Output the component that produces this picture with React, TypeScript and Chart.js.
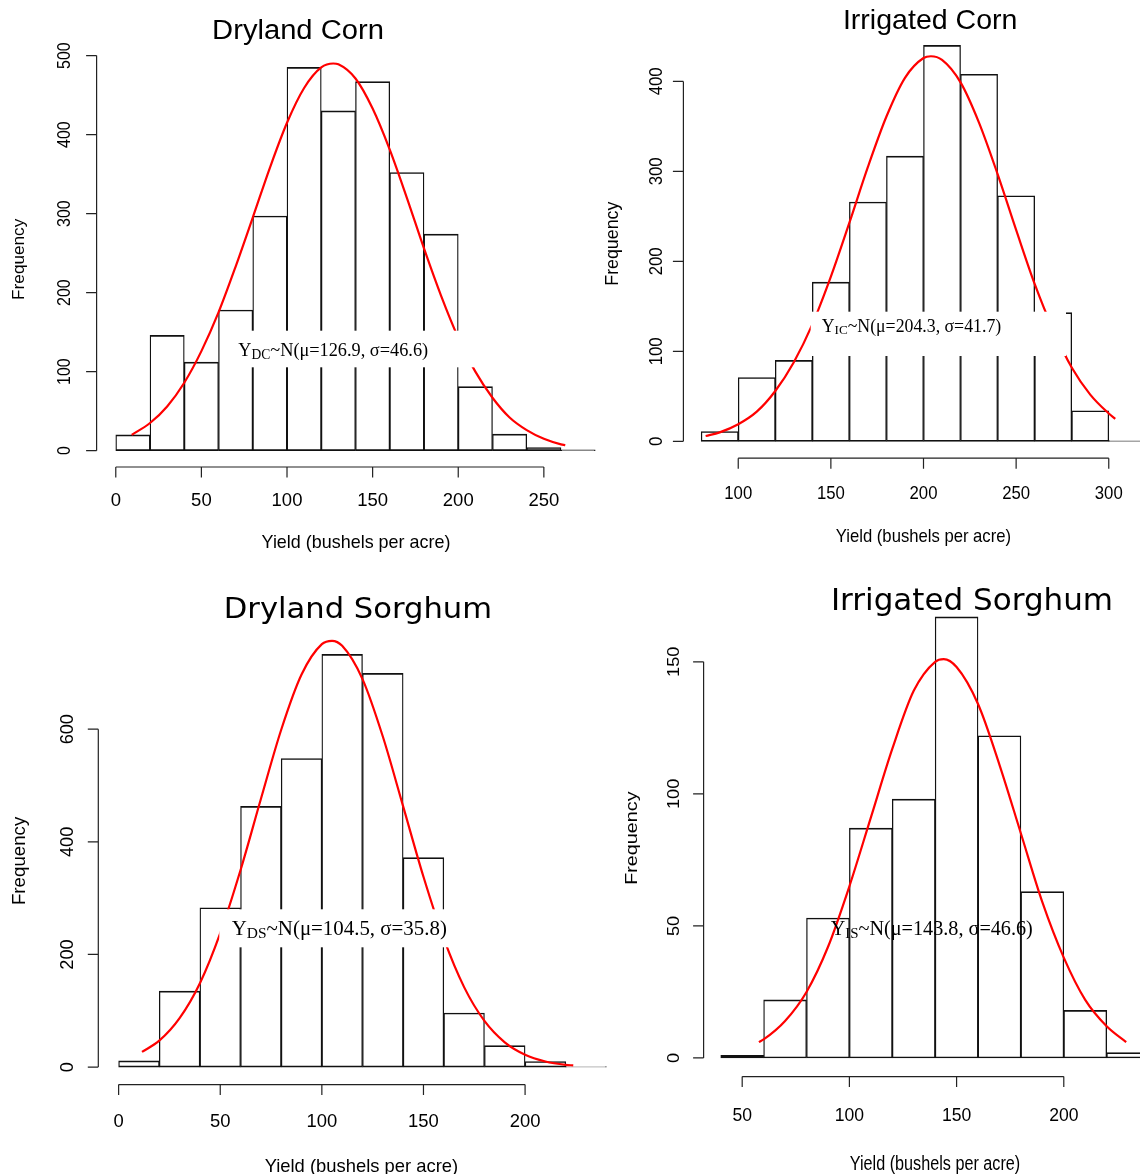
import React, { useEffect, useRef } from "react";
import { Chart, registerables } from "chart.js";

Chart.register(...registerables);

// ---------------- DATA ----------------
const BIN_WIDTH = 20;

// Dryland Corn
const dcBinStarts = [0, 20, 40, 60, 80, 100, 120, 140, 160, 180, 200, 220, 240, 260];
const dcCounts = [20, 146, 112, 178, 297, 485, 430, 467, 352, 274, 81, 21, 4, 1];
const dcCurveX = [9.3, 20, 30, 40, 50, 60, 70, 80, 90, 100, 110, 120, 127, 130, 140, 150, 160, 170, 180, 190, 200, 210, 220, 230, 240, 250, 260, 262.5];
const dcCurveY = [20, 35, 56, 86, 126, 175, 233, 295, 358, 415, 459, 485, 490, 489, 471, 433, 381, 320, 256, 196, 143, 100, 67, 42, 26, 15, 8, 7];
const dcXTicks = [0, 50, 100, 150, 200, 250];
const dcYTicks = [0, 100, 200, 300, 400, 500];

// Irrigated Corn
const icBinStarts = [80, 100, 120, 140, 160, 180, 200, 220, 240, 260, 280, 300];
const icCounts = [11, 71, 90, 177, 266, 317, 440, 408, 273, 143, 34, 1];
const icCurveX = [82.4, 90, 100, 110, 120, 130, 140, 150, 160, 170, 180, 190, 200, 204, 210, 220, 230, 240, 250, 260, 270, 280, 290, 300, 303.5];
const icCurveY = [6, 10, 19, 33, 56, 88, 130, 183, 243, 305, 361, 404, 426, 428, 424, 399, 354, 297, 235, 175, 124, 82, 52, 31, 25];
const icXTicks = [100, 150, 200, 250, 300];
const icYTicks = [0, 100, 200, 300, 400];

// Dryland Sorghum
const dsBinStarts = [0, 20, 40, 60, 80, 100, 120, 140, 160, 180, 200, 220];
const dsCounts = [11, 135, 283, 463, 548, 733, 699, 372, 96, 38, 10, 1];
const dsCurveX = [11.5, 20, 30, 40, 50, 60, 70, 80, 90, 100, 105, 110, 120, 130, 140, 150, 160, 170, 180, 190, 200, 210, 220, 223.7];
const dsCurveY = [27, 47, 87, 149, 238, 350, 476, 599, 697, 751, 757, 748, 689, 587, 463, 338, 228, 142, 82, 44, 22, 10, 4, 3];
const dsXTicks = [0, 50, 100, 150, 200];
const dsYTicks = [0, 200, 400, 600];

// Irrigated Sorghum
const isBinStarts = [40, 60, 80, 100, 120, 140, 160, 180, 200, 220];
const isCounts = [1, 22, 53, 87, 98, 167, 122, 63, 18, 2];
const isCurveX = [57.8, 60, 70, 80, 90, 100, 110, 120, 130, 140, 144, 150, 160, 170, 180, 190, 200, 210, 220, 229.1];
const isCurveY = [6, 7, 14, 25, 42, 65, 91, 117, 139, 150, 151, 148, 134, 111, 85, 59, 38, 22, 12, 6];
const isXTicks = [50, 100, 150, 200];
const isYTicks = [0, 50, 100, 150];

const titles = ["Dryland Corn", "Irrigated Corn", "Dryland Sorghum", "Irrigated Sorghum"];
const noteSubs = ["DC", "IC", "DS", "IS"];
const noteRests = ["~N(μ=126.9, σ=46.6)", "~N(μ=204.3, σ=41.7)", "~N(μ=104.5, σ=35.8)", "~N(μ=143.8, σ=46.6)"];
const Y_TITLE = "Frequency";
const X_TITLE = "Yield (bushels per acre)";

// ---------------- LAYOUT ----------------
const CW = 1200;
const CH = 1240;
const SANS = '"Liberation Sans", Arial, Helvetica, sans-serif';
const DEJAVU = '"DejaVu Sans", Verdana, sans-serif';
const SERIF = '"Liberation Serif", "Times New Roman", serif';
const AXIS_COLOR = "#222";
const TICK_LEN = 10.5;

type Txt = { x: number; y: number; size: number; sx: number };
type Spec = {
  binStarts: number[];
  counts: number[];
  curveX: number[];
  curveY: number[];
  xTicks: number[];
  yTicks: number[];
  area: { left: number; right: number; top: number; bottom: number };
  xRange: [number, number];
  yRange: [number, number];
  title: string;
  titleFont: string;
  titlePos: Txt;
  xLab: { baseline: number; size: number; sx: number };
  yLab: { xb: number; size: number; sx: number };
  yTitle: Txt;
  xTitle: Txt;
  note: { left: number; baseline: number; size: number; sub: string; rest: string; box: number[] | null };
};

const specs: Spec[] = [
  {
    binStarts: dcBinStarts, counts: dcCounts, curveX: dcCurveX, curveY: dcCurveY, xTicks: dcXTicks, yTicks: dcYTicks,
    area: { left: 96.6, right: 614.4, top: 52.1, bottom: 466.0 },
    xRange: [-11.2, 291.2], yRange: [-19.4, 504.4],
    title: titles[0], titleFont: SANS, titlePos: { x: 298, y: 38.5, size: 27, sx: 1.08 },
    xLab: { baseline: 506, size: 18.5, sx: 1 },
    yLab: { xb: 70, size: 16, sx: 1.1 },
    yTitle: { x: 23.8, y: 259.3, size: 17.2, sx: 1 },
    xTitle: { x: 356, y: 547.5, size: 18.5, sx: 0.97 },
    note: { left: 238.3, baseline: 356, size: 18.3, sub: noteSubs[0], rest: noteRests[0], box: [220, 330.7, 476, 367.3] },
  },
  {
    binStarts: icBinStarts, counts: icCounts, curveX: icCurveX, curveY: icCurveY, xTicks: icXTicks, yTicks: icYTicks,
    area: { left: 683.4, right: 1163.6, top: 29.6, bottom: 457.2 },
    xRange: [70.4, 329.6], yRange: [-17.6, 457.6],
    title: titles[1], titleFont: SANS, titlePos: { x: 930.2, y: 29.3, size: 28, sx: 1.02 },
    xLab: { baseline: 499, size: 18, sx: 0.93 },
    yLab: { xb: 662.3, size: 16.7, sx: 1.1 },
    yTitle: { x: 618.4, y: 243.7, size: 17.8, sx: 1 },
    xTitle: { x: 923.4, y: 542, size: 18.5, sx: 0.9 },
    note: { left: 821.7, baseline: 331.7, size: 17.8, sub: noteSubs[1], rest: noteRests[1], box: [810.7, 311.7, 1066, 356] },
  },
  {
    binStarts: dsBinStarts, counts: dsCounts, curveX: dsCurveX, curveY: dsCurveY, xTicks: dsXTicks, yTicks: dsYTicks,
    area: { left: 98.3, right: 626.7, top: 637.8, bottom: 1083.6 },
    xRange: [-10, 250], yRange: [-29.3, 762.3],
    title: titles[2], titleFont: DEJAVU, titlePos: { x: 357.9, y: 617.9, size: 28.6, sx: 1.07 },
    xLab: { baseline: 1126.8, size: 19, sx: 0.97 },
    yLab: { xb: 72.6, size: 18.2, sx: 1.05 },
    yTitle: { x: 25.3, y: 860.9, size: 18.7, sx: 1 },
    xTitle: { x: 361.4, y: 1171.5, size: 18.4, sx: 1 },
    note: { left: 231.7, baseline: 935, size: 20.9, sub: noteSubs[2], rest: noteRests[2], box: [219.3, 909.3, 465, 947.3] },
  },
  {
    binStarts: isBinStarts, counts: isCounts, curveX: isCurveX, curveY: isCurveY, xTicks: isXTicks, yTicks: isYTicks,
    area: { left: 703.6, right: 1166.7, top: 599.2, bottom: 1075.6 },
    xRange: [32, 248], yRange: [-6.68, 173.7],
    title: titles[3], titleFont: DEJAVU, titlePos: { x: 972, y: 610.3, size: 30.1, sx: 1.03 },
    xLab: { baseline: 1121, size: 18.7, sx: 0.94 },
    yLab: { xb: 679.4, size: 18.2, sx: 0.9 },
    yTitle: { x: 637.1, y: 838.1, size: 19.8, sx: 0.8 },
    xTitle: { x: 935, y: 1170, size: 20, sx: 0.81 },
    note: { left: 830.7, baseline: 935, size: 20.2, sub: noteSubs[3], rest: noteRests[3], box: null },
  },
];

function drawText(
  ctx: CanvasRenderingContext2D,
  s: string,
  x: number,
  y: number,
  size: number,
  family: string,
  sx = 1,
  rot = 0,
  align: CanvasTextAlign = "center"
) {
  ctx.save();
  ctx.translate(x, y);
  ctx.scale(sx, 1);
  if (rot) ctx.rotate(rot);
  ctx.font = `${size}px ${family}`;
  ctx.textAlign = align;
  ctx.textBaseline = "alphabetic";
  ctx.fillStyle = "#000";
  ctx.fillText(s, 0, 0);
  ctx.restore();
}

function makePlugin(spec: Spec) {
  return {
    id: "rStyle",
    afterDatasetsDraw(chart: any) {
      const ctx: CanvasRenderingContext2D = chart.ctx;
      const n = spec.note;
      ctx.save();
      if (n.box) {
        ctx.fillStyle = "#fff";
        ctx.fillRect(n.box[0], n.box[1], n.box[2] - n.box[0], n.box[3] - n.box[1]);
      }
      ctx.fillStyle = "#000";
      ctx.textAlign = "left";
      ctx.textBaseline = "alphabetic";
      ctx.font = `${n.size}px ${SERIF}`;
      let x = n.left;
      ctx.fillText("Y", x, n.baseline);
      x += ctx.measureText("Y").width;
      ctx.font = `${n.size * 0.74}px ${SERIF}`;
      ctx.fillText(n.sub, x, n.baseline + n.size * 0.15);
      x += ctx.measureText(n.sub).width;
      ctx.font = `${n.size}px ${SERIF}`;
      ctx.fillText(n.rest, x, n.baseline);
      ctx.restore();
    },
    afterDraw(chart: any) {
      const ctx: CanvasRenderingContext2D = chart.ctx;
      const xs = chart.scales.x;
      const ys = chart.scales.y;
      const ca = chart.chartArea;
      ctx.save();
      ctx.strokeStyle = AXIS_COLOR;
      ctx.lineWidth = 1.2;
      // y axis
      const ax = ca.left;
      const yT = spec.yTicks;
      ctx.beginPath();
      ctx.moveTo(ax, ys.getPixelForValue(yT[0]));
      ctx.lineTo(ax, ys.getPixelForValue(yT[yT.length - 1]));
      yT.forEach((v) => {
        const py = ys.getPixelForValue(v);
        ctx.moveTo(ax - TICK_LEN, py);
        ctx.lineTo(ax, py);
      });
      ctx.stroke();
      yT.forEach((v) => {
        drawText(ctx, String(v), spec.yLab.xb, ys.getPixelForValue(v), spec.yLab.size, SANS, spec.yLab.sx, -Math.PI / 2);
      });
      // x axis
      const ay = ca.bottom + 1;
      const xT = spec.xTicks;
      ctx.beginPath();
      ctx.moveTo(xs.getPixelForValue(xT[0]), ay);
      ctx.lineTo(xs.getPixelForValue(xT[xT.length - 1]), ay);
      xT.forEach((v) => {
        const px = xs.getPixelForValue(v);
        ctx.moveTo(px, ay);
        ctx.lineTo(px, ay + TICK_LEN);
      });
      ctx.stroke();
      xT.forEach((v) => {
        drawText(ctx, String(v), xs.getPixelForValue(v), spec.xLab.baseline, spec.xLab.size, SANS, spec.xLab.sx);
      });
      // titles
      const t = spec.titlePos;
      drawText(ctx, spec.title, t.x, t.y, t.size, spec.titleFont, t.sx);
      const yt = spec.yTitle;
      drawText(ctx, Y_TITLE, yt.x, yt.y, yt.size, SANS, yt.sx, -Math.PI / 2);
      const xt = spec.xTitle;
      drawText(ctx, X_TITLE, xt.x, xt.y, xt.size, SANS, xt.sx);
      ctx.restore();
    },
  };
}

function HistPanel({ spec }: { spec: Spec }) {
  const ref = useRef<HTMLCanvasElement>(null);
  useEffect(() => {
    const canvas = ref.current;
    if (!canvas) return;
    const bars = spec.binStarts.map((s, i) => ({ x: s + BIN_WIDTH / 2, y: spec.counts[i] }));
    const curve = spec.curveX.map((x, i) => ({ x, y: spec.curveY[i] }));
    const a = spec.area;
    const chart = new Chart(canvas, {
      type: "bar",
      data: {
        datasets: [
          {
            type: "line",
            data: curve,
            borderColor: "#ff0000",
            borderWidth: 2.2,
            pointRadius: 0,
            cubicInterpolationMode: "monotone",
            fill: false,
            order: 0,
          } as any,
          {
            type: "bar",
            data: bars,
            backgroundColor: "rgba(0,0,0,0)",
            borderColor: "#111",
            borderWidth: { top: 1, bottom: 1, left: 0.65, right: 0.65 },
            borderSkipped: false,
            barThickness: "flex",
            barPercentage: 1,
            categoryPercentage: 1,
            order: 1,
          } as any,
        ],
      },
      options: {
        responsive: false,
        maintainAspectRatio: false,
        animation: false,
        devicePixelRatio: 1,
        events: [],
        layout: { padding: { left: a.left, top: a.top, right: CW - a.right, bottom: CH - a.bottom } },
        plugins: { legend: { display: false }, title: { display: false }, tooltip: { enabled: false } },
        scales: {
          x: { type: "linear", min: spec.xRange[0], max: spec.xRange[1], offset: false, display: false, bounds: "data" } as any,
          y: { type: "linear", min: spec.yRange[0], max: spec.yRange[1], display: false, bounds: "data" } as any,
        },
      },
      plugins: [makePlugin(spec) as any],
    });
    return () => chart.destroy();
  }, [spec]);
  return <canvas ref={ref} width={CW} height={CH} style={{ position: "absolute", left: 0, top: 0 }} />;
}

export default function App() {
  return (
    <div
      style={{
        position: "absolute",
        left: 0,
        top: 0,
        width: 1140,
        height: 1174,
        overflow: "hidden",
        background: "#fff",
      }}
    >
      {specs.map((s, i) => (
        <HistPanel key={i} spec={s} />
      ))}
    </div>
  );
}
